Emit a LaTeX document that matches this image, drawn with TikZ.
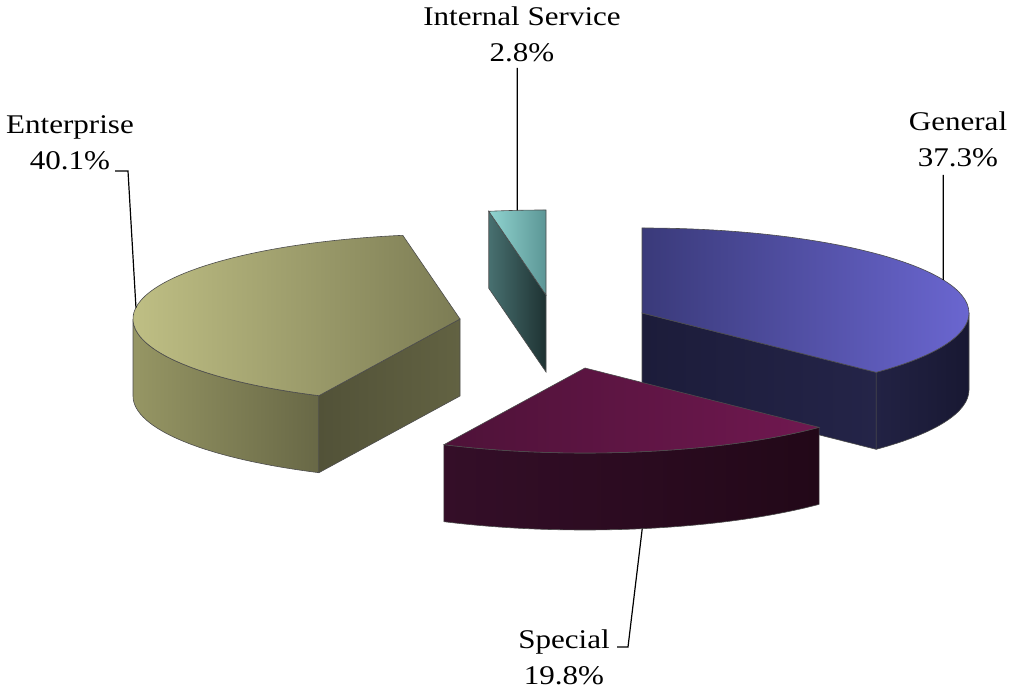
\documentclass[tikz,border=0pt]{standalone}
\usepackage{fontspec}
\setmainfont{Liberation Serif}

\definecolor{entTopL}{RGB}{196,196,136}
\definecolor{entTopM}{RGB}{214,212,156}
\definecolor{entTopR}{RGB}{124,124,84}
\definecolor{entWallL}{RGB}{150,150,100}
\definecolor{entWallR}{RGB}{104,104,70}
\definecolor{entSideL}{RGB}{82,82,56}
\definecolor{entSideR}{RGB}{98,98,66}
\definecolor{genTopL}{RGB}{58,58,122}
\definecolor{genTopR}{RGB}{106,102,208}
\definecolor{genSideL}{RGB}{28,28,58}
\definecolor{genSideR}{RGB}{36,36,72}
\definecolor{genWallL}{RGB}{34,34,68}
\definecolor{genWallR}{RGB}{24,24,50}
\definecolor{speTopL}{RGB}{78,18,56}
\definecolor{speTopR}{RGB}{112,24,80}
\definecolor{speWallL}{RGB}{52,14,40}
\definecolor{speWallR}{RGB}{34,8,24}
\definecolor{intTopL}{RGB}{144,212,208}
\definecolor{intTopR}{RGB}{92,150,150}
\definecolor{intSideL}{RGB}{72,112,112}
\definecolor{intSideR}{RGB}{30,50,50}

\tikzset{
	facet/.style={draw=black!70, line width=0.6pt},
	leader/.style={draw=black, line width=1.2pt},
	lbl/.style={font=\fontsize{27}{36}\selectfont, align=center, anchor=north, inner sep=0pt, xscale=1.15}
}

\begin{document}
\begin{tikzpicture}[x=1pt,y=1pt]
	\useasboundingbox (0,0) rectangle (1012,691);
	\coordinate (intC) at (546,396);
	\coordinate (entC) at (460,372);
	\coordinate (genC) at (642,378);
	\coordinate (speC) at (585,323);
	% Internal Service
	\draw[facet, left color=intSideL, right color=intSideR] (intC) -- ++(100.08:327 and 85) -- ++(0,-77) -- ([yshift=-77pt]intC) -- cycle;
	\draw[facet, left color=intTopL, right color=intTopR] (intC) -- ++(90:327 and 85) arc[start angle=90, end angle=100.08, x radius=327, y radius=85] -- cycle;
	% Enterprise
	\draw[facet, left color=entWallL, right color=entWallR] ([shift={(180:327 and 85)}]entC) arc[start angle=180, end angle=244.44, x radius=327, y radius=85] -- ++(0,-77) arc[start angle=244.44, end angle=180, x radius=327, y radius=85] -- cycle;
	\draw[facet, left color=entSideL, right color=entSideR] (entC) -- ++(244.44:327 and 85) -- ++(0,-77) -- ([yshift=-77pt]entC) -- cycle;
	\draw[facet, left color=entTopL, middle color=entTopM, right color=entTopR] (entC) -- ++(100.08:327 and 85) arc[start angle=100.08, end angle=244.44, x radius=327, y radius=85] -- cycle;
	% General
	\draw[facet, left color=genWallL, right color=genWallR] ([shift={(-44.28:327 and 85)}]genC) arc[start angle=-44.28, end angle=0, x radius=327, y radius=85] -- ++(0,-77) arc[start angle=0, end angle=-44.28, x radius=327, y radius=85] -- cycle;
	\draw[facet, left color=genSideL, right color=genSideR] (genC) -- ++(-44.28:327 and 85) -- ++(0,-77) -- ([yshift=-77pt]genC) -- cycle;
	\draw[facet, left color=genTopL, right color=genTopR] (genC) -- ++(90:327 and 85) arc[start angle=90, end angle=-44.28, x radius=327, y radius=85] -- cycle;
	% Special
	\draw[facet, left color=speWallL, right color=speWallR] ([shift={(-115.56:327 and 85)}]speC) arc[start angle=-115.56, end angle=-44.28, x radius=327, y radius=85] -- ++(0,-77) arc[start angle=-44.28, end angle=-115.56, x radius=327, y radius=85] -- cycle;
	\draw[facet, left color=speTopL, right color=speTopR] (speC) -- ++(-44.28:327 and 85) arc[start angle=-44.28, end angle=-115.56, x radius=327, y radius=85] -- cycle;
	% labels
	\node[lbl] (entLbl) at (70,576) {Enterprise\\40.1\%};
	\node[lbl] (intLbl) at (522,684) {Internal Service\\2.8\%};
	\node[lbl] (genLbl) at (958,579) {General\\37.3\%};
	\node[lbl] (speLbl) at (564,61) {Special\\19.8\%};
	\path (entC) ++(172.3:327 and 85) coordinate (entTip);
	\path (intC) ++(95.04:327 and 85) coordinate (intTip);
	\path (genC) ++(22.86:327 and 85) coordinate (genTip);
	\path (speC) ++(-79.92:327 and 85) ++(0,-77) coordinate (speTip);
	\coordinate (entBend) at (128,520);
	\coordinate (entEnd) at (115,520);
	\coordinate (intEnd) at (517.3,623);
	\coordinate (genEnd) at (943.3,516);
	\coordinate (speBend) at (628,44);
	\coordinate (speEnd) at (617,44);
	\draw[leader] (entTip) -- (entBend) -- (entEnd);
	\draw[leader] (intTip) -- (intEnd);
	\draw[leader] (genTip) -- (genEnd);
	\draw[leader] (speTip) -- (speBend) -- (speEnd);
\end{tikzpicture}
\end{document}
